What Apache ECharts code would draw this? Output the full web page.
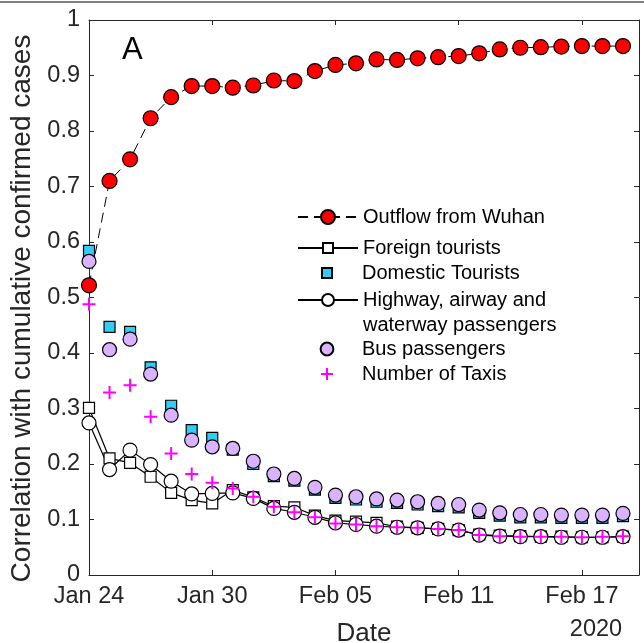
<!DOCTYPE html>
<html><head><meta charset="utf-8">
<script src="https://cdn.jsdelivr.net/npm/echarts@6/dist/echarts.min.js"></script>
<style>html,body{margin:0;padding:0;background:#fff}#c{width:644px;height:643px}</style>
</head><body><div id="c"></div>
<script>
const dates = ['2020-01-24','2020-01-25','2020-01-26','2020-01-27','2020-01-28','2020-01-29','2020-01-30','2020-01-31',
  '2020-02-01','2020-02-02','2020-02-03','2020-02-04','2020-02-05','2020-02-06','2020-02-07','2020-02-08','2020-02-09',
  '2020-02-10','2020-02-11','2020-02-12','2020-02-13','2020-02-14','2020-02-15','2020-02-16','2020-02-17','2020-02-18','2020-02-19'];
const outflow  = [0.522,0.710,0.749,0.823,0.861,0.881,0.881,0.878,0.882,0.891,0.890,0.908,0.919,0.922,0.929,0.928,0.931,0.933,0.935,0.940,0.947,0.950,0.951,0.952,0.953,0.953,0.953];
const foreign  = [0.301,0.210,0.202,0.177,0.148,0.135,0.129,0.153,0.140,0.124,0.122,0.107,0.098,0.096,0.094,0.087,0.085,0.083,0.081,0.073,0.071,0.070,0.069,0.069,0.068,0.068,0.069];
const domestic = [0.584,0.447,0.438,0.374,0.305,0.261,0.247,0.226,0.200,0.178,0.170,0.154,0.139,0.136,0.132,0.130,0.127,0.124,0.122,0.112,0.107,0.104,0.104,0.103,0.103,0.103,0.106];
const highway  = [0.274,0.190,0.225,0.199,0.169,0.146,0.147,0.148,0.138,0.120,0.113,0.104,0.094,0.091,0.088,0.086,0.085,0.083,0.081,0.072,0.070,0.069,0.069,0.068,0.068,0.068,0.069];
const bus      = [0.565,0.406,0.425,0.362,0.288,0.243,0.231,0.228,0.205,0.182,0.174,0.158,0.144,0.141,0.137,0.135,0.132,0.129,0.127,0.117,0.112,0.109,0.109,0.108,0.108,0.108,0.111];
const taxis    = [0.488,0.329,0.342,0.285,0.219,0.182,0.166,0.156,0.141,0.123,0.113,0.104,0.093,0.091,0.088,0.086,0.085,0.083,0.081,0.072,0.070,0.069,0.069,0.069,0.068,0.069,0.070];
const xTickLabels = ['Jan 24','Jan 30','Feb 05','Feb 11','Feb 17'];
const seriesNames = ['Outflow from Wuhan','Foreign tourists','Domestic Tourists','Highway, airway and waterway passengers','Bus passengers','Number of Taxis'];

const FONT = 'Liberation Sans, Arial, Helvetica, sans-serif';
const AX = '#262626';
const t0 = Date.parse(dates[0]);
const dayIdx = dates.map(d => (Date.parse(d) - t0) / 86400000);
const pts = arr => arr.map((v, i) => [dayIdx[i], v]);
const PLUS = 'path://M0,5L10,5M5,0L5,10';
const SQUARE = 'path://M0,0L10,0L10,10L0,10Z';

const chart = echarts.init(document.getElementById('c'), null, {renderer: 'canvas'});

const xBase = {
  type: 'value', min: 0, max: 26.78, interval: 6, gridIndex: 0,
  splitLine: {show: false},
  axisLine: {show: true, onZero: false, lineStyle: {color: AX, width: 1}},
  axisTick: {show: true, inside: true, length: 5, lineStyle: {color: AX}},
};
const yBase = {
  type: 'value', min: 0, max: 1, interval: 0.1, gridIndex: 0,
  splitLine: {show: false},
  axisLine: {show: true, onZero: false, lineStyle: {color: AX, width: 1}},
  axisTick: {show: true, inside: true, length: 5, lineStyle: {color: AX}},
};

const symStyle = (fill) => ({color: fill, borderColor: '#000', borderWidth: 1.2});
const noLine = {width: 0, opacity: 0};

function legendRow(name, top, itemHeight, extra) {
  return Object.assign({
    data: [name], left: 297, top: top, orient: 'vertical', padding: 0,
    itemWidth: 60, itemHeight: itemHeight, itemGap: 0, selectedMode: false,
    textStyle: {fontFamily: FONT, fontSize: 20, color: '#000', lineHeight: 20}
  }, extra || {});
}

chart.setOption({
  animation: false,
  backgroundColor: '#fff',
  grid: {left: 89, top: 20, width: 550, height: 555, containLabel: false, outerBoundsMode: 'none'},
  xAxis: [
    Object.assign({}, xBase, {
      position: 'bottom',
      name: 'Date', nameLocation: 'middle', nameGap: 46,
      nameTextStyle: {fontFamily: FONT, fontSize: 26, color: AX},
      axisLabel: {show: true, margin: 10, fontFamily: FONT, fontSize: 23.5, color: AX,
        showMaxLabel: false,
        formatter: v => (Math.abs(v % 6) < 1e-9 && v / 6 < xTickLabels.length) ? xTickLabels[v / 6] : ''}
    }),
    Object.assign({}, xBase, {position: 'top', axisLabel: {show: false}})
  ],
  yAxis: [
    Object.assign({}, yBase, {
      position: 'left',
      name: 'Correlation with cumulative confirmed cases', nameLocation: 'middle', nameGap: 46,
      nameTextStyle: {fontFamily: FONT, fontSize: 28, color: AX, padding: [0, 22, 0, 0]},
      axisLabel: {show: true, margin: 9, fontFamily: FONT, fontSize: 23.5, color: AX,
        formatter: v => String(+(+v).toFixed(1))}
    }),
    Object.assign({}, yBase, {position: 'right', axisLabel: {show: false}})
  ],
  legend: [
    legendRow(seriesNames[0], 207, 17.5),
    legendRow(seriesNames[1], 238, 12.5),
    legendRow(seriesNames[2], 263, 12.5),
    legendRow(seriesNames[3], 262.5, 15, {
      formatter: () => '\nHighway, airway and\nwaterway passengers',
      textStyle: {fontFamily: FONT, fontSize: 20, color: '#000', lineHeight: 25}
    }),
    legendRow(seriesNames[4], 339, 16),
    legendRow(seriesNames[5], 364, 15)
  ],
  graphic: [
    {type: 'line', shape: {x1: 0, y1: 2, x2: 644, y2: 2}, style: {stroke: '#000', lineWidth: 1}},
    {type: 'text', left: 122, top: 35, style: {text: 'A', font: '31px ' + FONT, fill: '#000'}},
    {type: 'text', x: 596, y: 630, style: {text: '2020', font: '23.5px ' + FONT, fill: AX, align: 'center', verticalAlign: 'middle'}}
  ],
  series: [
    {name: seriesNames[0], type: 'line', data: pts(outflow), clip: false,
      symbol: 'circle', symbolSize: 15, showAllSymbol: true,
      lineStyle: {color: '#000', width: 1, type: [10, 6]},
      itemStyle: symStyle('#ff0000')},
    {name: seriesNames[1], type: 'line', data: pts(foreign), clip: false,
      symbol: 'rect', symbolSize: 11, showAllSymbol: true,
      lineStyle: {color: '#000', width: 1.2},
      itemStyle: symStyle('#ffffff')},
    {name: seriesNames[2], type: 'line', data: pts(domestic), clip: false,
      symbol: SQUARE, symbolSize: 11, showAllSymbol: true,
      lineStyle: noLine,
      itemStyle: symStyle('#33ccf5')},
    {name: seriesNames[3], type: 'line', data: pts(highway), clip: false,
      symbol: 'circle', symbolSize: 14, showAllSymbol: true,
      lineStyle: {color: '#000', width: 1.2},
      itemStyle: symStyle('#ffffff')},
    {name: seriesNames[4], type: 'line', data: pts(bus), clip: false,
      symbol: 'circle', symbolSize: 14, showAllSymbol: true,
      lineStyle: noLine,
      itemStyle: symStyle('#d9b3ff')},
    {name: seriesNames[5], type: 'line', data: pts(taxis), clip: false,
      symbol: PLUS, symbolSize: 13, showAllSymbol: true,
      lineStyle: noLine,
      itemStyle: {color: 'rgba(0,0,0,0)', borderColor: '#ff00ff', borderWidth: 2}}
  ]
});
</script>
</body></html>
